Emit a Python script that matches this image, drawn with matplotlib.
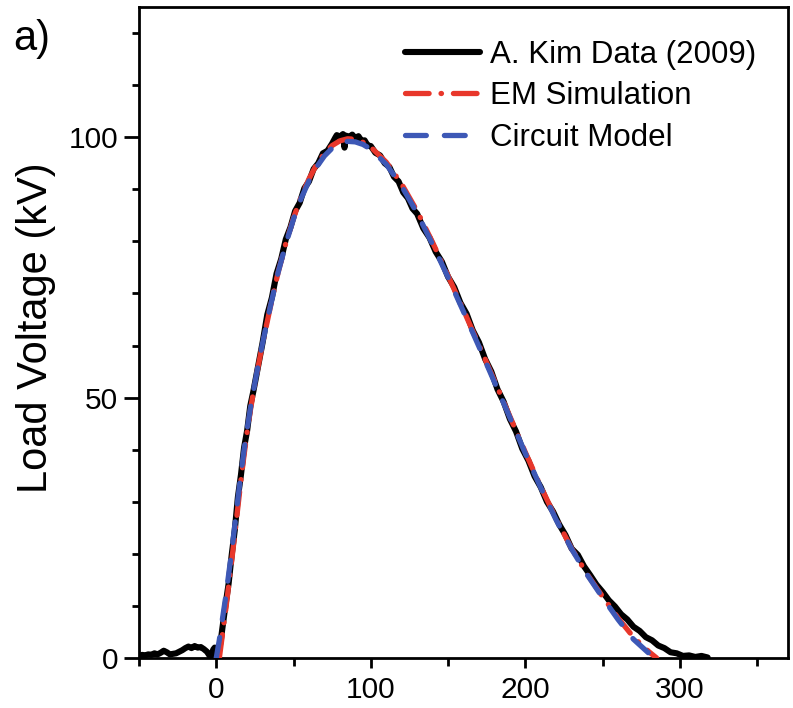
import matplotlib
matplotlib.use("Agg")
import matplotlib.pyplot as plt
from matplotlib.ticker import MultipleLocator

plt.rcParams['font.family'] = ['Liberation Sans', 'DejaVu Sans']
plt.rcParams['lines.scale_dashes'] = False

# Measured load voltage (kV) vs time (ns)
data_t = [-50, -48, -46, -44, -42, -40, -38, -36, -34, -32, -30, -28, -26, -24, -22,
          -20, -18, -16, -14, -12, -10, -8, -6, -4, -3, -2, -1, 0, 1, 2, 3, 4, 6, 8,
          10, 12, 14, 16, 18, 20, 22, 24, 27, 30, 33, 36, 39, 42, 45, 48, 51, 54, 57,
          60, 63, 66, 69, 72, 75, 77, 78, 80, 82, 83, 84, 86, 88, 90, 92, 94, 96, 98,
          100, 103, 106, 109, 112, 115, 118, 121, 124, 127, 130, 134, 138, 142, 146,
          150, 154, 158, 162, 166, 170, 174, 178, 182, 186, 190, 194, 198, 202, 206,
          210, 214, 218, 222, 226, 230, 234, 238, 242, 246, 250, 254, 258, 262, 266,
          270, 274, 278, 282, 286, 290, 294, 298, 302, 306, 310, 314, 318]
data_v = [0.4, 0.6, 0.5, 0.7, 0.6, 0.9, 0.7, 1.0, 1.4, 1.1, 0.7, 0.8, 0.9, 1.2, 1.5,
          1.9, 2.2, 1.9, 2.3, 2.0, 2.1, 1.7, 1.2, 0.3, 0.2, 1.6, 2.0, 1.2, 0.6, 1.8, 3.5,
          5.8, 10.2, 14.3, 19.8, 24.6, 30.9, 35.2, 40.4, 43.7, 48.4, 51.2, 55.9, 60.6,
          65.9, 69.2, 73.8, 76.6, 80.4, 82.7, 85.8, 87.4, 90.2, 91.5, 93.9, 95.0, 96.9,
          97.4, 98.8, 99.9, 100.4, 100.1, 100.6, 98.0, 100.3, 100.0, 100.5, 99.8, 100.2,
          99.3, 99.4, 98.4, 98.3, 97.0, 96.5, 95.0, 94.3, 92.4, 91.5, 89.4, 88.3, 86.3,
          85.3, 82.5, 80.7, 78.0, 76.1, 73.2, 71.2, 68.2, 66.1, 62.9, 60.6, 57.4, 55.0,
          51.6, 49.2, 45.9, 43.5, 40.2, 37.9, 34.9, 32.8, 30.0, 28.1, 25.6, 23.6, 21.0,
          19.8, 17.6, 15.9, 14.1, 12.7, 11.1, 9.9, 8.4, 7.4, 6.0, 5.2, 4.0, 3.4, 2.4,
          1.9, 1.1, 0.9, 0.4, 0.5, 0.2, 0.4, 0.1]

# EM simulation
em_t = [2, 4, 6, 8, 10, 12, 14, 16, 18, 20, 22, 24, 27, 30, 35, 40, 45, 50, 55, 60,
        65, 70, 75, 80, 85, 90, 95, 100, 110, 120, 130, 140, 150, 160, 170, 180, 190,
        200, 210, 220, 230, 240, 250, 260, 270, 280, 285]
em_v = [0, 4.5, 9.0, 13.8, 18.7, 23.8, 29.0, 34.2, 39.0, 43.4, 47.4, 51.0, 55.8, 60.4,
        67.4, 74.0, 79.6, 84.5, 88.6, 92.0, 94.8, 96.9, 98.4, 99.3, 99.7, 99.6, 99.0,
        98.1, 95.2, 91.0, 85.8, 79.8, 73.4, 66.8, 60.1, 53.3, 46.4, 39.5, 32.9, 26.7,
        21.0, 16.1, 11.8, 7.7, 4.0, 1.2, 0]

# Circuit model
cm_t = [0, 2, 4, 6, 8, 10, 12, 14, 16, 18, 20, 22, 24, 27, 30, 35, 40, 45, 50, 55, 60,
        65, 70, 75, 80, 85, 90, 95, 100, 110, 120, 130, 140, 150, 160, 170, 180, 190,
        200, 210, 220, 230, 240, 250, 260, 270, 280, 284]
cm_v = [0, 3.5, 7.5, 11.5, 16.0, 20.5, 25.5, 30.5, 35.5, 40.0, 44.0, 47.8, 51.2, 56.0,
        60.5, 67.5, 74.0, 79.5, 84.3, 88.3, 91.6, 94.3, 96.4, 97.9, 98.8, 99.2, 99.1,
        98.6, 97.7, 94.8, 90.6, 85.4, 79.4, 73.1, 66.5, 59.8, 53.0, 46.2, 39.3, 32.7,
        26.5, 20.9, 16.0, 11.6, 7.4, 3.6, 0.9, 0]

labels = ["A. Kim Data (2009)", "EM Simulation", "Circuit Model"]
x_ticks = [0, 100, 200, 300]
y_ticks = [0, 50, 100]

fig = plt.figure(figsize=(7.93, 7.08), dpi=100)
ax = fig.add_axes([139 / 793, 50 / 708, 649 / 793, 651 / 708])

ax.plot(data_t, data_v, color="black", lw=4.4, solid_joinstyle="round",
        solid_capstyle="round", label=labels[0], zorder=2)
ax.plot(em_t, em_v, color="#e8372b", lw=3.8, dashes=(17, 8.6, 0.3, 8.6),
        dash_capstyle="round", label=labels[1], zorder=3)
ax.plot(cm_t, cm_v, color="#3d58b6", lw=3.8, dashes=(15, 13),
        dash_capstyle="round", label=labels[2], zorder=4)

ax.set_xlim(-50, 370)
ax.set_ylim(0, 125)
ax.set_xticks(x_ticks)
ax.set_yticks(y_ticks)
ax.xaxis.set_minor_locator(MultipleLocator(50))
ax.yaxis.set_minor_locator(MultipleLocator(10))
ax.tick_params(axis="x", which="major", direction="out", length=7, width=2,
               labelsize=21.5, pad=6)
ax.tick_params(axis="x", which="minor", direction="out", length=6, width=2)
ax.tick_params(axis="y", which="major", direction="out", length=11, width=2,
               labelsize=21.5, pad=4)
ax.tick_params(axis="y", which="minor", direction="out", length=5, width=2)
for s in ax.spines.values():
    s.set_linewidth(2)

ax.set_ylabel("Load Voltage (kV)", fontsize=30, va="center")
ax.yaxis.set_label_coords(-0.159, 0.507)

fig.text(0.017, 1 - 19 / 708, "a)", fontsize=30, ha="left", va="top")

ax.legend(loc="upper left", bbox_to_anchor=(405 / 793, 1 - 40 / 708),
          bbox_transform=fig.transFigure, frameon=False, fontsize=22.5,
          handlelength=2.4, handletextpad=0.32, labelspacing=0.36,
          borderpad=0, borderaxespad=0)

fig.savefig("out.png", dpi=100)
